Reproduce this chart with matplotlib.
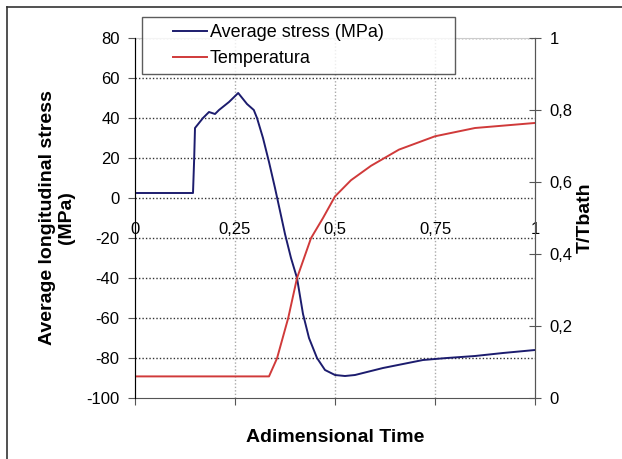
import matplotlib.pyplot as plt
from matplotlib.lines import Line2D
from matplotlib.legend_handler import HandlerLine2D

plt.rcParams['font.family'] = ['Liberation Sans', 'DejaVu Sans']
plt.rcParams['axes.unicode_minus'] = False

# stress curve (adimensional time, MPa)
t_stress = [0, 0.145, 0.148, 0.15, 0.17, 0.185, 0.2, 0.21, 0.235, 0.258, 0.28, 0.297,
            0.305, 0.32, 0.335, 0.35, 0.362, 0.375, 0.39, 0.405, 0.42, 0.435, 0.455,
            0.475, 0.5, 0.525, 0.55, 0.58, 0.62, 0.67, 0.72, 0.78, 0.85, 0.92, 1.0]
stress = [2.5, 2.5, 20, 35, 40, 43, 42, 44, 48, 52.5, 47, 44,
          40, 30, 18, 5, -6, -18, -30, -40, -58, -70, -80,
          -86, -88.5, -89, -88.5, -87, -85, -83, -81, -80, -79, -77.5, -76]

# temperature curve (adimensional time, T/Tbath)
t_temp = [0, 0.335, 0.355, 0.383, 0.405, 0.44, 0.47, 0.5, 0.54, 0.59, 0.66, 0.75, 0.85, 1.0]
temp = [0.06, 0.06, 0.11, 0.222, 0.333, 0.444, 0.50, 0.56, 0.605, 0.645, 0.69, 0.727, 0.75, 0.764]

x_ticks = [0, 0.25, 0.5, 0.75, 1]
x_labels = ['0', '0,25', '0,5', '0,75', '1']
y_ticks = [-100, -80, -60, -40, -20, 0, 20, 40, 60, 80]
t_ticks = [0, 0.2, 0.4, 0.6, 0.8, 1]
t_labels = ['0', '0,2', '0,4', '0,6', '0,8', '1']

fig = plt.figure(figsize=(6.22, 4.59), dpi=100)
ax = fig.add_axes([135 / 622, 61 / 459, 400 / 622, 360 / 459])

# figure frame (top and left edges visible)
fig.add_artist(Line2D([7 / 622, 1], [1 - 7 / 459, 1 - 7 / 459], color='#333333', lw=1.2))
fig.add_artist(Line2D([7 / 622, 7 / 622], [0, 1 - 7 / 459], color='#333333', lw=1.2))

ax.set_xlim(0, 1)
ax.set_ylim(-100, 80)
ax.set_yticks(y_ticks)
for y in y_ticks[1:]:
    ax.axhline(y, color='#333333', ls=(0, (1, 1.5)), lw=1, zorder=0)
for x in x_ticks[1:-1]:
    ax.axvline(x, color='#aaaaaa', ls=(0, (1, 1.5)), lw=1, zorder=0)

ax.spines['left'].set_color('#555555')
ax.spines['right'].set_color('#555555')
ax.spines['top'].set_color('#cccccc')
ax.tick_params(axis='y', direction='out', length=5, color='#555555', labelsize=12, pad=6)

# x tick labels sit next to the zero line
ax.spines['bottom'].set_position(('data', 0))
ax.spines['bottom'].set_visible(False)
ax.set_xticks(x_ticks)
ax.set_xticklabels(x_labels)
ax.tick_params(axis='x', length=0, labelsize=12, pad=17)

# plain axis line at the bottom with tick marks only
sec = ax.secondary_xaxis('bottom')
sec.set_xticks(x_ticks)
sec.set_xticklabels([])
sec.spines['bottom'].set_color('#555555')
sec.tick_params(direction='out', length=5, color='#555555')

l1, = ax.plot(t_stress, stress, color='#1c1c6e', lw=1.4, label='Average stress (MPa)')

ax2 = ax.twinx()
ax2.set_ylim(0, 1)
ax2.set_yticks(t_ticks)
ax2.set_yticklabels(t_labels)
ax2.spines['top'].set_visible(False)
ax2.spines['bottom'].set_visible(False)
ax2.spines['right'].set_color('#555555')
ax2.tick_params(axis='y', direction='inout', length=9, color='#555555', labelsize=12, pad=6)
l2, = ax2.plot(t_temp, temp, color='#d03a3a', lw=1.4, label='Temperatura')

ax.set_ylabel('Average longitudinal stress\n(MPa)', fontsize=14, fontweight='bold', labelpad=8)
ax2.set_ylabel('T/Tbath', fontsize=14, fontweight='bold', labelpad=3)
ax.set_xlabel('Adimensional Time', fontsize=14, fontweight='bold', labelpad=0)
ax.xaxis.set_label_coords(0.5, -0.085)

leg = fig.legend([l1, l2], [l1.get_label(), l2.get_label()],
                 loc='upper left', mode='expand',
                 bbox_to_anchor=(142 / 622, 1 - 17 / 459, 313 / 622, 0),
                 handler_map={Line2D: HandlerLine2D(xpad=1.3)},
                 fontsize=13, frameon=True, fancybox=False, handlelength=3.2,
                 handletextpad=0.15, borderpad=0.4, labelspacing=0.5,
                 borderaxespad=0)
leg.get_frame().set_edgecolor('#333333')
leg.get_frame().set_linewidth(1)
leg.set_zorder(5)

fig.savefig('out.png', dpi=100)
